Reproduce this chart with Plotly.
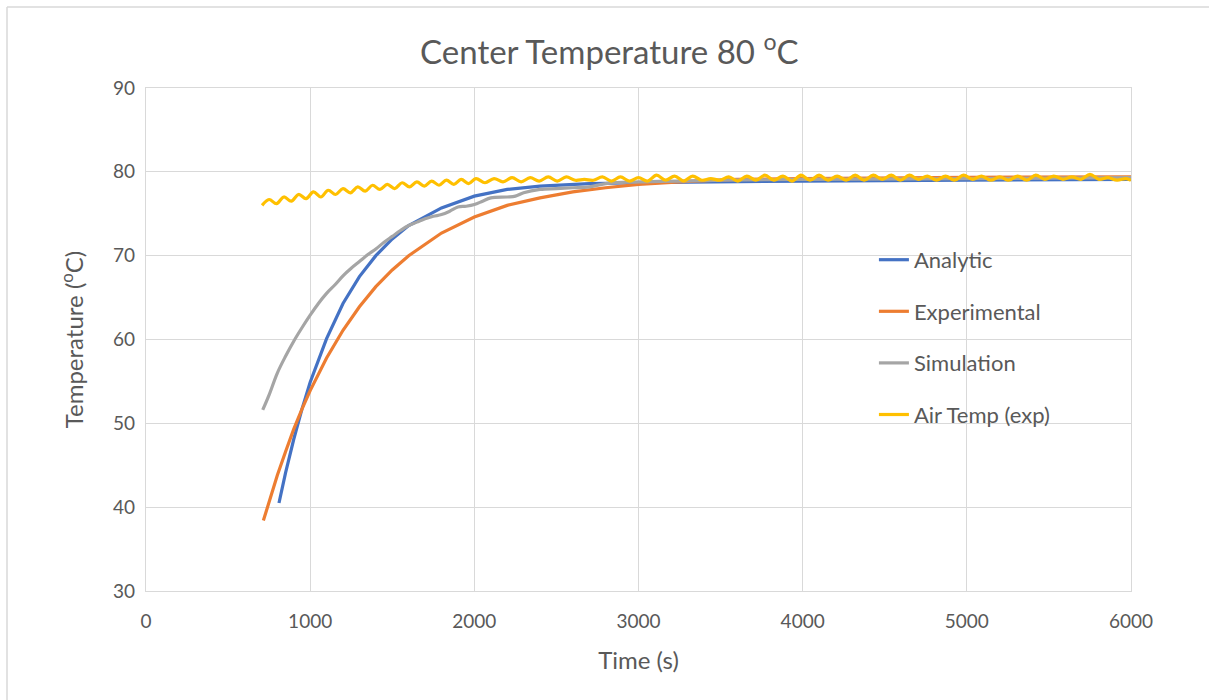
import plotly.graph_objects as go

# Analytic solution (s, degC)
analytic_t = [810, 850, 900, 950, 1000, 1100, 1200, 1300, 1400, 1500, 1600, 1800,
              2000, 2200, 2400, 2700, 3000, 3500, 4000, 5000, 6000]
analytic_T = [40.5, 44.1, 48.1, 51.7, 54.9, 60.1, 64.3, 67.5, 70.0, 72.0, 73.6, 75.7,
              77.1, 77.9, 78.3, 78.6, 78.7, 78.8, 78.9, 79.0, 79.1]

# Measured centre temperature
exp_t = [715, 750, 800, 850, 900, 950, 1000, 1100, 1200, 1300, 1400, 1500, 1600, 1800,
         2000, 2200, 2400, 2600, 2800, 3000, 3300, 3600, 4000, 5000, 6000]
exp_T = [38.4, 40.7, 43.8, 46.6, 49.3, 51.7, 53.9, 57.8, 61.1, 63.9, 66.3, 68.3, 70.0, 72.7,
         74.6, 76.0, 76.9, 77.6, 78.1, 78.5, 78.85, 79.1, 79.2, 79.35, 79.4]

# Simulated centre temperature
sim_t = [711, 750, 800, 850, 900, 950, 1000, 1050, 1100, 1150, 1200, 1250, 1300, 1350,
         1400, 1450, 1500, 1550, 1600, 1650, 1700, 1750, 1800, 1850, 1900, 1950, 2000,
         2050, 2100, 2200, 2250, 2300, 2400, 2500, 2600, 2700, 2800, 3000, 3500, 4000,
         5000, 6000]
sim_T = [51.6, 53.4, 56.0, 58.0, 59.8, 61.4, 62.9, 64.3, 65.5, 66.5, 67.6, 68.5, 69.3, 70.1,
         70.8, 71.6, 72.3, 73.0, 73.6, 74.0, 74.4, 74.7, 74.9, 75.3, 75.8, 75.9, 76.1,
         76.5, 76.9, 77.0, 77.1, 77.5, 77.9, 78.0, 78.1, 78.2, 78.6, 78.8, 79.0, 79.1,
         79.2, 79.3]

# Oven air temperature (measured), peaks and troughs of the thermostat cycle
air_t = [707, 750, 795, 840, 885, 930, 975, 1020, 1065, 1110, 1155, 1200, 1245, 1290,
         1335, 1380, 1425, 1470, 1515, 1560, 1605, 1650, 1695, 1740, 1785, 1830, 1875,
         1920, 1965, 2010, 2065, 2120, 2175, 2230, 2285, 2340, 2395, 2450, 2505, 2560,
         2615, 2670, 2725, 2780, 2835, 2890, 2945, 3000, 3055, 3110, 3165, 3220, 3275,
         3330, 3385, 3440, 3495, 3550, 3605, 3660, 3715, 3770, 3825, 3880, 3935, 3990,
         4045, 4100, 4155, 4210, 4265, 4320, 4375, 4430, 4485, 4540, 4595, 4650, 4705,
         4760, 4815, 4870, 4925, 4980, 5035, 5090, 5145, 5200, 5255, 5310, 5365, 5420,
         5475, 5530, 5585, 5640, 5695, 5750, 5805, 5860, 5915, 5970, 6000]
air_T = [76.0, 76.7, 76.2, 77.0, 76.5, 77.3, 76.8, 77.6, 77.0, 77.8, 77.3, 78.0, 77.5, 78.2,
         77.7, 78.4, 77.9, 78.5, 78.0, 78.7, 78.2, 78.8, 78.3, 78.9, 78.4, 79.0, 78.5,
         79.1, 78.6, 79.2, 78.7, 79.2, 78.8, 79.3, 78.8, 79.3, 78.9, 79.4, 78.9, 79.4,
         79.0, 79.1, 79.0, 79.4, 78.9, 79.4, 78.9, 79.3, 78.9, 79.6, 79.0, 79.5, 78.9,
         79.5, 79.0, 79.2, 79.0, 79.4, 78.9, 79.5, 79.0, 79.6, 79.0, 79.5, 78.9, 79.6,
         79.0, 79.6, 79.0, 79.5, 79.0, 79.6, 79.0, 79.6, 79.1, 79.6, 79.0, 79.6, 79.1,
         79.5, 79.0, 79.5, 79.0, 79.6, 79.1, 79.5, 79.0, 79.4, 79.0, 79.5, 79.0, 79.6,
         79.1, 79.5, 79.1, 79.4, 79.1, 79.7, 79.1, 79.3, 79.0, 79.2, 79.0]

x_ticks = [0, 1000, 2000, 3000, 4000, 5000, 6000]
y_ticks = [30, 40, 50, 60, 70, 80, 90]

FONT = "Lato, 'Open Sans', sans-serif"
TEXT = "#595959"
GRID = "#d9d9d9"

fig = go.Figure()
series = [
    ("Analytic", analytic_t, analytic_T, "#4472C4", "linear"),
    ("Experimental", exp_t, exp_T, "#ED7D31", "linear"),
    ("Simulation", sim_t, sim_T, "#A5A5A5", "spline"),
    ("Air Temp (exp)", air_t, air_T, "#FFC000", "spline"),
]
for i, (name, t, T, color, shape) in enumerate(series):
    fig.add_trace(go.Scatter(
        x=t, y=T, name=name, mode="lines", legendgroup=f"g{i}",
        line=dict(color=color, width=3.2, shape=shape),
    ))

fig.update_layout(
    width=1209, height=700,
    margin=dict(l=146, r=78, t=88, b=109),
    paper_bgcolor="white", plot_bgcolor="white",
    font=dict(family=FONT, color=TEXT, size=19),
    title=dict(text="Center Temperature 80 <sup>o</sup>C", x=0.504, xanchor="center",
               y=0.925, yanchor="middle", font=dict(size=33, color=TEXT, family=FONT)),
    showlegend=True,
    legend=dict(x=0.739, y=0.70, xanchor="left", yanchor="top",
                bgcolor="rgba(0,0,0,0)", traceorder="grouped", tracegroupgap=20,
                font=dict(size=22, color=TEXT, family=FONT)),
    xaxis=dict(range=[0, 6000], tickvals=x_ticks, showgrid=True, gridcolor=GRID,
               gridwidth=1.3, showline=True, linecolor=GRID, linewidth=1.3, mirror=True,
               zeroline=False, ticks="", tickfont=dict(size=19), ticklabelstandoff=13,
               title=dict(text="Time (s)", font=dict(size=24), standoff=21)),
    yaxis=dict(range=[30, 90], tickvals=y_ticks, showgrid=True, gridcolor=GRID,
               gridwidth=1.3, showline=True, linecolor=GRID, linewidth=1.3, mirror=True,
               zeroline=False, ticks="", tickfont=dict(size=19), ticklabelstandoff=6,
               title=dict(text="Temperature (<sup>o</sup>C)", font=dict(size=24), standoff=22)),
)

# Chart-area frame along the top and left edges
fig.add_shape(type="line", xref="paper", yref="paper",
              x0=(7 - 146) / 985, x1=(1209 - 146) / 985,
              y0=(591 - 7) / 503, y1=(591 - 7) / 503,
              line=dict(color="#d9d9d9", width=1.5))
fig.add_shape(type="line", xref="paper", yref="paper",
              x0=(7 - 146) / 985, x1=(7 - 146) / 985,
              y0=(591 - 7) / 503, y1=(591 - 700) / 503,
              line=dict(color="#d9d9d9", width=1.5))

fig.write_html("out.html")
